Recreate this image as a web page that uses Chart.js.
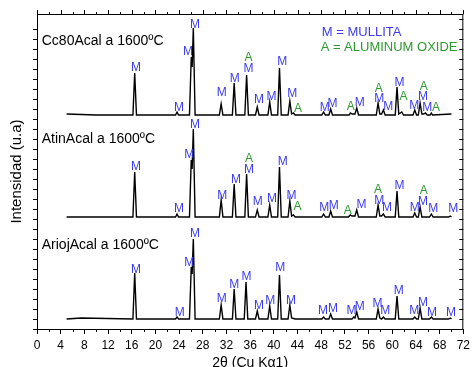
<!DOCTYPE html>
<html>
<head>
<meta charset="utf-8">
<script src="https://cdn.jsdelivr.net/npm/chart.js@4.4.1/dist/chart.umd.min.js"></script>
<style>
  body { margin: 0; background: #fff; }
</style>
</head>
<body>
<canvas id="xrd" width="474" height="367"></canvas>
<script>
const FONT = "'Liberation Sans', Arial, sans-serif";
const BLUE = '#3b3bf2';
const GREEN = '#2f9a2f';

// [2theta, intensity]  (u.a., the three patterns are stacked)
const cc80Pattern = [[5,215],[10,214],[16.2,214],[16.5,256],[16.8,214],[23.4,214],[23.65,217],[23.9,214],
  [25.75,214],[26.05,272],[26.2,262],[26.4,301],[26.7,214],[30.8,214],[31.1,225],[31.4,214],
  [33.0,214],[33.3,246],[33.6,214],[35.1,214],[35.4,254],[35.7,214],[36.9,214],[37.2,222],[37.5,214],
  [39.0,214],[39.3,227],[39.6,214],[40.65,214],[40.95,261],[41.25,214],[42.4,214],[42.7,228],[43.0,215],
  [43.3,216],[43.6,214],[48.1,214],[48.4,217],[48.7,214],[49.3,214],[49.6,220],[49.9,214],[52.7,214],
  [52.95,216],[53.2,215],[53.7,215],[54.0,221],[54.3,214],[57.3,214],[57.6,226],[57.9,215],[58.2,215],
  [58.5,219],[58.8,214],[60.5,214],[60.8,242],[61.1,215],[61.6,217],[61.9,214],[63.5,214],[63.8,219],
  [64.1,214],[64.4,214],[64.7,226],[65.0,215],[65.3,215],[65.6,216],[65.9,214],[66.4,214],[66.6,216],
  [66.8,214],[70,215]];

const atinPattern = [[5,112],[16.2,112],[16.5,157],[16.8,112],[23.4,112],[23.65,115],[23.9,112],
  [25.75,112],[26.05,169],[26.2,160],[26.4,200],[26.7,112],[30.8,112],[31.1,129],[31.4,112],
  [33.0,112],[33.3,145],[33.6,112],[35.1,112],[35.4,155],[35.7,112],[36.9,112],[37.2,119],[37.5,112],
  [39.0,112],[39.3,124],[39.6,112],[40.65,112],[40.95,162],[41.25,112],[42.4,112],[42.7,128],[43.0,113],
  [43.3,114],[43.6,112],[48.1,112],[48.4,115],[48.7,112],[49.3,112],[49.6,118],[49.9,112],[52.6,112],
  [52.9,114],[53.2,113],[53.7,113],[54.0,119],[54.3,112],[57.3,112],[57.6,124],[57.9,113],[58.2,113],
  [58.5,115],[58.8,112],[60.5,112],[60.8,138],[61.1,112],[63.5,112],[63.8,116],[64.1,112],[64.4,112],
  [64.7,122],[65.0,112],[66.3,112],[66.6,115],[66.9,112],[69.5,112],[69.8,113],[70,112]];

const ariojPattern = [[5,10],[7.5,11],[16.2,10],[16.5,56],[16.8,10],[23.4,10],[23.65,12],[23.9,10],
  [25.75,10],[26.05,62],[26.2,55],[26.4,90],[26.7,10],[30.8,10],[31.1,24],[31.4,10],
  [33.0,10],[33.3,40],[33.6,10],[35.0,10],[35.3,47],[35.6,10],[36.9,10],[37.2,18],[37.5,10],
  [39.0,10],[39.3,23],[39.6,10],[40.65,10],[40.95,54],[41.25,10],[42.4,10],[42.7,24],[43.0,11],
  [43.6,10],[48.1,10],[48.4,12],[48.7,10],[49.3,10],[49.6,15],[49.9,10],[53.2,10],[53.5,12],[53.7,11],
  [54.0,17],[54.3,10],[57.3,10],[57.6,20],[57.9,11],[58.2,10],[58.5,12],[58.8,10],[60.5,10],[60.8,33],
  [61.1,10],[63.5,10],[63.8,12],[64.1,10],[64.4,10],[64.7,21],[65.0,10],[66.3,10],[66.6,12],[66.9,10],
  [69.5,10],[69.8,11],[70,10]];

// peak marks: [2theta, intensity, phase]
const cc80Peaks = [[16.7,261,'M'],[24.0,221,'M'],[25.5,277,'M'],[26.7,304,'M'],[31.2,236,'M'],
  [33.4,250,'M'],[35.7,260,'M'],[35.7,271,'A'],[37.5,229,'M'],[39.6,232,'M'],[41.4,267,'M'],
  [43.1,235,'M'],[44.1,220,'A'],[48.6,221,'M'],[49.9,225,'M'],[53.0,222,'A'],[54.5,226,'M'],
  [57.8,230,'M'],[57.7,240,'A'],[59.3,222,'M'],[61.2,246,'M'],[61.9,232,'A'],[63.7,223,'M'],
  [65.2,232,'M'],[65.3,242,'A'],[65.9,221,'M'],[67.4,221,'A']];

const atinPeaks = [[16.7,162,'M'],[24.0,120,'M'],[25.7,174,'M'],[26.7,204,'M'],[31.3,133,'M'],
  [33.6,149,'M'],[35.8,159,'M'],[35.8,170,'A'],[37.3,127,'M'],[39.7,130,'M'],[41.5,167,'M'],
  [43.0,133,'M'],[44.0,122,'A'],[48.5,121,'M'],[50.1,123,'M'],[52.5,118,'A'],[54.8,124,'M'],
  [57.8,128,'M'],[57.6,139,'A'],[59.1,121,'M'],[61.2,143,'M'],[63.8,121,'M'],[65.2,127,'M'],
  [65.3,138,'A'],[66.9,120,'M'],[70.3,120,'M']];

const ariojPeaks = [[16.7,59,'M'],[24.1,16,'M'],[25.7,66,'M'],[26.7,95,'M'],[31.2,30,'M'],
  [33.3,44,'M'],[35.4,52,'M'],[37.5,23,'M'],[39.4,28,'M'],[41.1,61,'M'],[42.9,28,'M'],
  [48.3,18,'M'],[50.0,20,'M'],[53.1,18,'M'],[54.5,22,'M'],[57.5,25,'M'],[58.8,18,'M'],
  [61.1,38,'M'],[63.7,18,'M'],[65.2,26,'M'],[66.7,16,'M'],[69.9,16,'M']];

// sample names: [2theta, intensity, text]
const sampleNames = [[0.8,288,'Cc80Acal a 1600ºC'],[0.8,190,'AtinAcal a 1600ºC'],[0.8,84,'AriojAcal a 1600ºC']];
const phaseKey = [[48.1,297,'M = MULLITA','M'],[47.9,282,'A = ALUMINUM OXIDE','A']];

const xTicks = [0,4,8,12,16,20,24,28,32,36,40,44,48,52,56,60,64,68,72];

const toXY = arr => arr.map(p => ({ x: p[0], y: p[1] }));
const phaseColor = ph => ph === 'A' ? GREEN : BLUE;

const decorations = {
  id: 'decorations',
  afterDraw(chart) {
    const { ctx, chartArea: a, scales: { x, y } } = chart;
    ctx.save();
    ctx.strokeStyle = '#000';
    ctx.lineWidth = 1;
    ctx.beginPath();
    // top and right frame
    ctx.moveTo(a.left, a.top + 0.5); ctx.lineTo(a.right, a.top + 0.5);
    ctx.moveTo(a.right - 0.5, a.top); ctx.lineTo(a.right - 0.5, a.bottom);
    for (let v = 0; v <= 72; v += 2) {
      const px = Math.round(x.getPixelForValue(v)) + 0.5;
      const major = v % 4 === 0;
      ctx.moveTo(px, a.top); ctx.lineTo(px, a.top - (major ? 4 : 2));
      if (!major) { ctx.moveTo(px, a.bottom); ctx.lineTo(px, a.bottom + 3); }
    }
    for (let v = 0; v <= 310; v += 10) {
      const py = Math.round(y.getPixelForValue(v)) + 0.5;
      ctx.moveTo(a.right, py); ctx.lineTo(a.right - 4, py);
    }
    ctx.stroke();

    ctx.textAlign = 'center';
    ctx.textBaseline = 'middle';
    ctx.font = '12px ' + FONT;
    [cc80Peaks, atinPeaks, ariojPeaks].forEach(list => list.forEach(p => {
      ctx.fillStyle = phaseColor(p[2]);
      ctx.fillText(p[2], x.getPixelForValue(p[0]), y.getPixelForValue(p[1]));
    }));

    ctx.textAlign = 'left';
    ctx.font = '14px ' + FONT;
    ctx.fillStyle = '#000';
    sampleNames.forEach(s => ctx.fillText(s[2], x.getPixelForValue(s[0]), y.getPixelForValue(s[1])));

    ctx.font = '13px ' + FONT;
    phaseKey.forEach(k => {
      ctx.fillStyle = phaseColor(k[3]);
      ctx.fillText(k[2], x.getPixelForValue(k[0]), y.getPixelForValue(k[1]));
    });
    ctx.restore();
  }
};

const lineStyle = { borderColor: '#000', borderWidth: 1.4, pointRadius: 0, showLine: true, tension: 0, fill: false };

new Chart(document.getElementById('xrd'), {
  type: 'scatter',
  data: {
    datasets: [
      Object.assign({ label: 'Cc80Acal', data: toXY(cc80Pattern) }, lineStyle),
      Object.assign({ label: 'AtinAcal', data: toXY(atinPattern) }, lineStyle),
      Object.assign({ label: 'AriojAcal', data: toXY(ariojPattern) }, lineStyle)
    ]
  },
  options: {
    responsive: false,
    animation: false,
    layout: { padding: { left: 0, top: 14, right: 5.5, bottom: 0 } },
    plugins: { legend: { display: false }, tooltip: { enabled: false } },
    scales: {
      x: {
        type: 'linear', min: 0, max: 72,
        afterBuildTicks: s => { s.ticks = xTicks.map(v => ({ value: v })); },
        afterFit: s => { s.height = 38; },
        ticks: { color: '#000', font: { family: FONT, size: 12 }, padding: 4, maxRotation: 0, autoSkip: false },
        grid: { drawOnChartArea: false, color: '#000', tickLength: 5 },
        border: { color: '#000', width: 1 },
        title: { display: true, text: '2θ (Cu Kα1)', color: '#000', font: { family: FONT, size: 14, lineHeight: 1 }, padding: { top: 0, bottom: -3 } }
      },
      y: {
        type: 'linear', min: 0, max: 315,
        afterBuildTicks: s => { s.ticks = s.ticks.filter(t => t.value % 10 === 0); },
        afterFit: s => { s.width = 37; },
        ticks: { display: false, stepSize: 10 },
        grid: { drawOnChartArea: false, color: '#000', tickLength: 4 },
        border: { color: '#000', width: 1 },
        title: { display: true, text: 'Intensidad (u.a)', color: '#000', font: { family: FONT, size: 15, lineHeight: 1 }, padding: { top: 9, bottom: 0 } }
      }
    }
  },
  plugins: [decorations]
});
</script>
</body>
</html>
